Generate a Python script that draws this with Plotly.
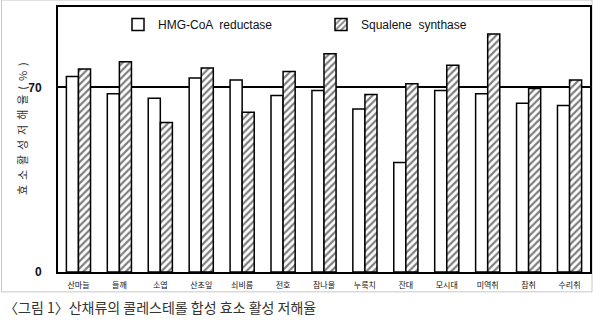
import plotly.graph_objects as go

categories = ["산마늘", "들깨", "소엽", "산초잎", "쇠비름", "전호", "참나물",
              "누룩치", "잔대", "모시대", "미역취", "참취", "수리취"]
hmg_values = [74.1, 67.6, 65.9, 73.6, 72.8, 66.9, 68.8, 61.8, 41.5, 68.8, 67.6, 64.0, 63.1]
sqs_values = [77.0, 79.7, 56.7, 77.4, 60.6, 76.0, 82.8, 67.3, 71.4, 78.4, 90.3, 69.6, 72.8]
y_ticks = [0, 70]
y_title = "효  소  활  성  저  해  율  (  %  )"
caption = "〈그림 1〉산채류의 콜레스테롤 합성 효소 활성 저해율"

W, H = 600, 324
L, R, T, B = 58, 10, 5, 52
pw, ph = W - L - R, H - T - B

def px_x(p):
    return (p - L) / pw

def px_y(p):
    return (H - B - p) / ph

fig = go.Figure()
fig.add_trace(go.Bar(
    x=categories, y=hmg_values, name="HMG-CoA  reductase",
    marker=dict(color="white", line=dict(color="black", width=1.5)),
))
fig.add_trace(go.Bar(
    x=categories, y=sqs_values, name="Squalene  synthase",
    marker=dict(color="white", line=dict(color="black", width=1.5),
                pattern=dict(shape="/", fgcolor="black", bgcolor="white",
                             size=5, solidity=0.45)),
))

fig.update_layout(
    width=W, height=H,
    margin=dict(l=L, r=R, t=T, b=B, pad=0),
    paper_bgcolor="white", plot_bgcolor="white",
    barmode="group", bargap=0.41, bargroupgap=0,
    showlegend=True,
    legend=dict(orientation="h", x=px_x(118), y=px_y(8), xanchor="left", yanchor="top",
                font=dict(family="Liberation Sans, Arial", size=12, color="#111"),
                bgcolor="rgba(0,0,0,0)", itemwidth=30, entrywidth=158,
                traceorder="normal"),
    xaxis=dict(showline=True, linecolor="black", linewidth=2, mirror=True,
               ticks="", showgrid=False,
               tickfont=dict(family="Noto Sans CJK KR", size=8, color="#111"),
               ticklabelstandoff=4),
    yaxis=dict(range=[0, 100.5], showline=True, linecolor="black", linewidth=2, mirror=True,
               tickvals=y_ticks, ticktext=["<b>%d</b>" % v for v in y_ticks],
               ticks="", showgrid=True, gridcolor="black", gridwidth=1.5,
               zeroline=False,
               tickfont=dict(family="Liberation Sans, Arial", size=12, color="#111"),
               ticklabelstandoff=12),
    annotations=[
        dict(text=y_title, textangle=-90, x=px_x(12), y=px_y(128),
             xref="paper", yref="paper", showarrow=False,
             font=dict(family="Noto Sans CJK KR", size=11, color="#333")),
        dict(text=caption, x=px_x(2), y=px_y(307), xref="paper", yref="paper",
             xanchor="left", yanchor="middle", showarrow=False,
             font=dict(family="Noto Sans CJK KR", size=14, color="#333")),
    ],
    shapes=[
        dict(type="rect", xref="paper", yref="paper",
             x0=px_x(1.5), x1=px_x(592), y0=px_y(292), y1=px_y(-2),
             line=dict(color="#c8c8c8", width=1), fillcolor="rgba(0,0,0,0)", layer="below"),
    ],
)

fig.write_html("out.html")
